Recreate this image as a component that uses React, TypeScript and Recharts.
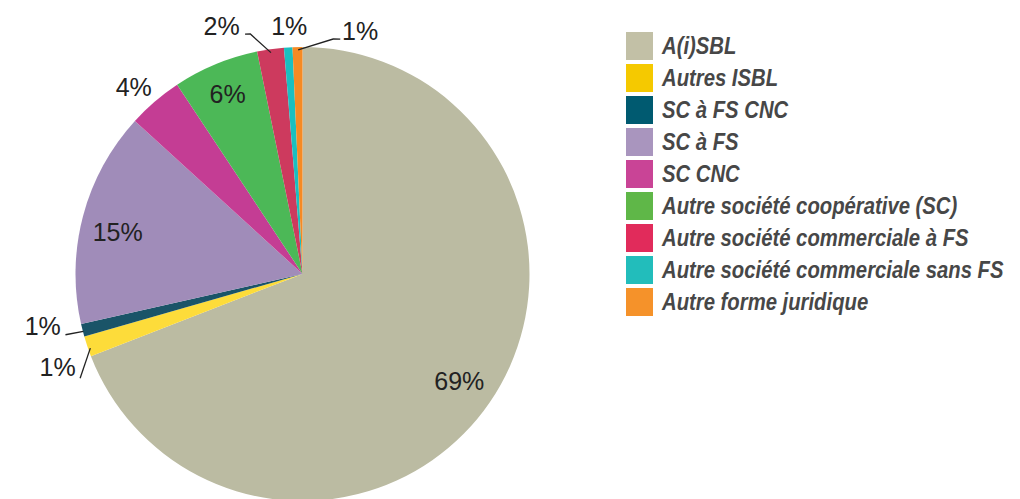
import { PieChart, Pie, Cell } from "recharts";

// Répartition par forme juridique (%)
const categories = [
  "A(i)SBL",
  "Autres ISBL",
  "SC à FS CNC",
  "SC à FS",
  "SC CNC",
  "Autre société coopérative (SC)",
  "Autre société commerciale à FS",
  "Autre société commerciale sans FS",
  "Autre forme juridique",
];
const shares = [69.0, 1.45, 0.9, 15.3, 3.9, 6.1, 1.9, 0.6, 0.7];

const sliceColors = [
  "#BBBBA2", "#FDDC3A", "#1A5468", "#A08CB9", "#C43D94",
  "#4CB857", "#CD3A5E", "#1ABFC0", "#F58A24",
];
const legendColors = [
  "#C2C0A6", "#F5C900", "#005A70", "#A995BE", "#C94496",
  "#5FB748", "#E12B5B", "#22BDBB", "#F5922A",
];

const data = categories.map((name, i) => ({ name, value: shares[i] }));

// label placement relative to each slice: radius factor, angle shift (deg, clockwise),
// optional leader line as [radius factor, angle shift] points
type Place = { r: number; d: number; line?: [number, number][] };
const placement: Place[] = [
  { r: 0.837, d: 0 },
  { r: 1.154, d: -2.2, line: [[0.99, -0.65], [1.082, -6.5]] },
  { r: 1.167, d: 3.1, line: [[0.998, -0.3], [1.078, 0]] },
  { r: 0.835, d: -2 },
  { r: 1.11, d: -1.5 },
  { r: 0.86, d: 0 },
  { r: 1.15, d: -9.95, line: [[0.985, 0], [1.082, -4.15], [1.087, -5.35]] },
  { r: 1.093, d: 0.55 },
  { r: 1.1, d: 14.6, line: [[0.987, 0.15], [1.044, 8.7], [1.048, 10.4]] },
];

const renderLabel = (props: any) => {
  const { cx, cy, midAngle, outerRadius, percent, index } = props;
  const p = placement[index];
  const mid = 90 - midAngle; // clockwise from top
  const pt = (rf: number, d: number) => {
    const t = ((mid + d) * Math.PI) / 180;
    return [cx + rf * outerRadius * Math.sin(t), cy - rf * outerRadius * Math.cos(t)];
  };
  const [x, y] = pt(p.r, p.d);
  return (
    <g key={`l${index}`}>
      {p.line && (
        <polyline
          points={p.line.map(([rf, d]) => pt(rf, d).join(",")).join(" ")}
          fill="none"
          stroke="#222"
          strokeWidth={1.3}
        />
      )}
      <text
        x={x}
        y={y}
        textAnchor="middle"
        dominantBaseline="central"
        fill="#222"
        fontSize={25}
        fontFamily="'Liberation Sans', Arial, sans-serif"
      >
        {`${Math.round(percent * 100)}%`}
      </text>
    </g>
  );
};

export default function App() {
  return (
    <div style={{ position: "relative", width: 1020, height: 499, background: "#fff", overflow: "hidden" }}>
      <style>{"body{margin:0}"}</style>
      <PieChart width={1020} height={499} margin={{ top: 0, right: 0, bottom: 0, left: 0 }}>
        <Pie
          data={data}
          dataKey="value"
          nameKey="name"
          cx={302.5}
          cy={274}
          outerRadius={227}
          startAngle={90}
          endAngle={-270}
          stroke="none"
          label={renderLabel}
          labelLine={false}
          isAnimationActive={false}
        >
          {data.map((d, i) => (
            <Cell key={d.name} fill={sliceColors[i]} />
          ))}
        </Pie>
      </PieChart>
      <div style={{ position: "absolute", left: 626, top: 32 }}>
        {categories.map((c, i) => (
          <div key={c} style={{ display: "flex", alignItems: "center", height: 28, marginBottom: 4 }}>
            <div style={{ width: 27, height: 28, background: legendColors[i], flexShrink: 0 }} />
            <span
              style={{
                marginLeft: 9,
                display: "inline-block",
                transform: "scaleX(0.845)",
                transformOrigin: "left center",
                fontFamily: "'Liberation Sans', Arial, sans-serif",
                fontWeight: "bold",
                fontStyle: "italic",
                fontSize: 24,
                lineHeight: "28px",
                color: "#474747",
                whiteSpace: "nowrap",
              }}
            >
              {c}
            </span>
          </div>
        ))}
      </div>
    </div>
  );
}
